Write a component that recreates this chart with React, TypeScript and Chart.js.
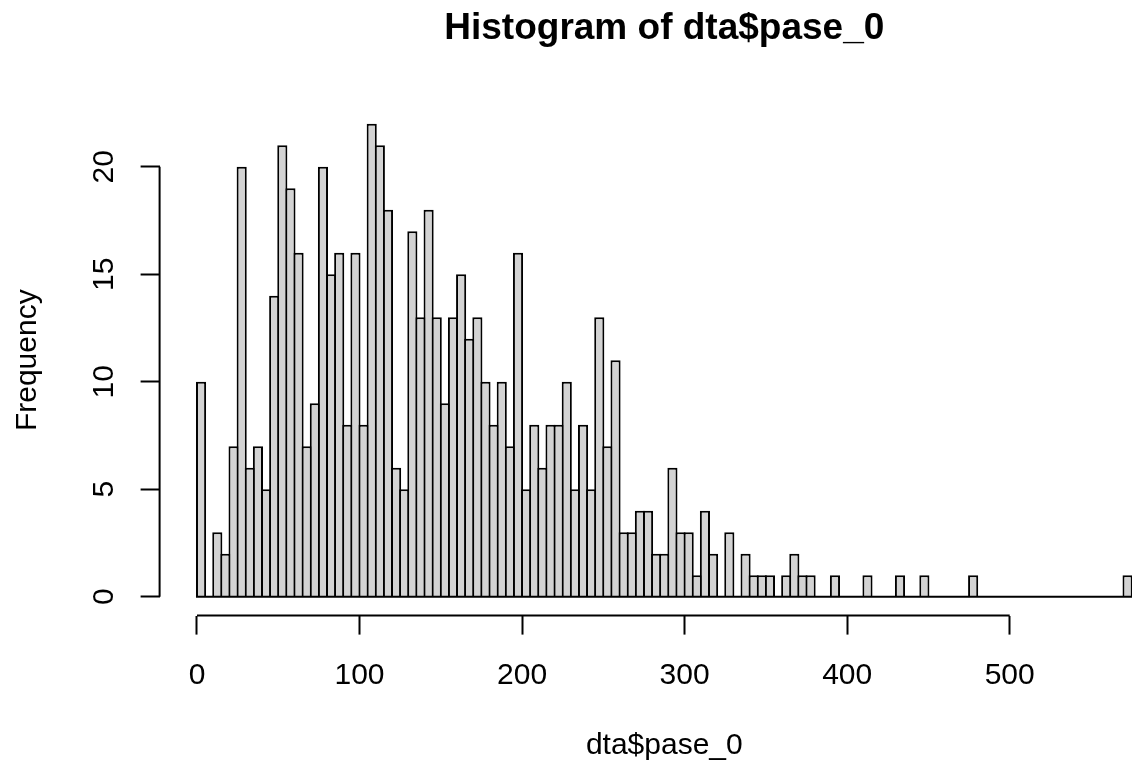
import React, { useEffect, useRef } from "react";
import { Chart, registerables } from "chart.js";

Chart.register(...registerables);

const TITLE = "Histogram of dta$pase_0";
const X_LABEL = "dta$pase_0";
const Y_LABEL = "Frequency";

const BIN_START = 0;
const BIN_WIDTH = 5;
// Frequency per 5-unit bin, from [0,5) up to [570,575)
const counts = [
  10, 0, 3, 2, 7, 20, 6, 7, 5, 14,
  21, 19, 16, 7, 9, 20, 15, 16, 8, 16,
  8, 22, 21, 18, 6, 5, 17, 13, 18, 13,
  9, 13, 15, 12, 13, 10, 8, 10, 7, 16,
  5, 8, 6, 8, 8, 10, 5, 8, 5, 13,
  7, 11, 3, 3, 4, 4, 2, 2, 6, 3,
  3, 1, 4, 2, 0, 3, 0, 2, 1, 1,
  1, 0, 1, 2, 1, 1, 0, 0, 1, 0,
  0, 0, 1, 0, 0, 0, 1, 0, 0, 1,
  0, 0, 0, 0, 0, 1, 0, 0, 0, 0,
  0, 0, 0, 0, 0, 0, 0, 0, 0, 0,
  0, 0, 0, 0, 1,
];

const xTicks = [0, 100, 200, 300, 400, 500];
const yTicks = [0, 5, 10, 15, 20];

const X_MIN = -23;
const X_MAX = 598;
const Y_MIN = -0.88;
const Y_MAX = 22.88;

const FONT = "'Liberation Sans', Arial, Helvetica, sans-serif";

export default function App() {
  const ref = useRef<HTMLCanvasElement | null>(null);

  useEffect(() => {
    const canvas = ref.current;
    if (!canvas) return;

    const binEnd = BIN_START + counts.length * BIN_WIDTH;

    const rAxes = {
      id: "rAxes",
      afterDatasetsDraw(chart: any) {
        const { ctx, chartArea, scales } = chart;
        const xs = scales.x;
        const ys = scales.y;
        ctx.save();
        ctx.strokeStyle = "#000";
        ctx.lineWidth = 2;
        // baseline of histogram (zero-height bins included)
        const y0 = ys.getPixelForValue(0);
        ctx.beginPath();
        ctx.moveTo(xs.getPixelForValue(BIN_START) - 1, y0);
        ctx.lineTo(xs.getPixelForValue(binEnd) + 1, y0);
        ctx.stroke();
        // x axis line
        ctx.beginPath();
        ctx.moveTo(xs.getPixelForValue(xTicks[0]), chartArea.bottom);
        ctx.lineTo(xs.getPixelForValue(xTicks[xTicks.length - 1]), chartArea.bottom);
        ctx.stroke();
        // y axis line
        ctx.beginPath();
        ctx.moveTo(chartArea.left, ys.getPixelForValue(yTicks[0]));
        ctx.lineTo(chartArea.left, ys.getPixelForValue(yTicks[yTicks.length - 1]));
        ctx.stroke();
        // rotated y tick labels
        ctx.fillStyle = "#000";
        ctx.font = `30px ${FONT}`;
        ctx.textAlign = "center";
        ctx.textBaseline = "alphabetic";
        for (const v of yTicks) {
          ctx.save();
          ctx.translate(113.3, ys.getPixelForValue(v));
          ctx.rotate(-Math.PI / 2);
          ctx.fillText(String(v), 0, 0);
          ctx.restore();
        }
        ctx.restore();
      },
    };

    const chart = new Chart(canvas, {
      type: "bar",
      data: {
        datasets: [
          {
            data: counts.map((c, i) => ({ x: BIN_START + i * BIN_WIDTH + BIN_WIDTH / 2, y: c })),
            backgroundColor: "#D3D3D3",
            borderColor: "#000000",
            borderWidth: 2,
            borderSkipped: "start",
            barPercentage: 1.246,
            categoryPercentage: 1,
          },
        ],
      },
      options: {
        animation: false,
        responsive: false,
        events: [],
        layout: { padding: 0 },
        plugins: {
          legend: { display: false },
          tooltip: { enabled: false },
          title: {
            display: true,
            text: TITLE,
            fullSize: false,
            color: "#000",
            font: { family: FONT, size: 37, weight: "bold", lineHeight: 1.2 },
            padding: { top: 7, bottom: 53.4 },
          },
        },
        scales: {
          x: {
            type: "linear",
            min: X_MIN,
            max: X_MAX,
            offset: false,
            afterBuildTicks: (s: any) => {
              s.ticks = xTicks.map((v) => ({ value: v }));
            },
            afterFit: (s: any) => {
              s.height = 155.4;
            },
            border: { display: false },
            grid: {
              offset: false,
              drawOnChartArea: false,
              drawTicks: true,
              tickLength: 19,
              tickWidth: 2,
              tickColor: "#000",
              color: "#000",
            },
            ticks: {
              color: "#000",
              font: { family: FONT, size: 30 },
              padding: 23,
              maxRotation: 0,
              minRotation: 0,
              autoSkip: false,
              callback: (v: any) => String(v),
            },
            title: {
              display: true,
              text: X_LABEL,
              color: "#000",
              font: { family: FONT, size: 30, lineHeight: 1.2 },
              padding: { top: 0, bottom: 7.3 },
            },
          },
          y: {
            type: "linear",
            min: Y_MIN,
            max: Y_MAX,
            afterBuildTicks: (s: any) => {
              s.ticks = yTicks.map((v) => ({ value: v }));
            },
            afterFit: (s: any) => {
              s.width = 159.6;
            },
            border: { display: false },
            grid: {
              drawOnChartArea: false,
              drawTicks: true,
              tickLength: 19,
              tickWidth: 2,
              tickColor: "#000",
              color: "#000",
            },
            ticks: {
              display: false,
              font: { family: FONT, size: 30 },
            },
            title: {
              display: true,
              text: Y_LABEL,
              color: "#000",
              font: { family: FONT, size: 30, lineHeight: 1.2 },
              padding: { top: 9.4, bottom: 0 },
            },
          },
        },
      },
      plugins: [rAxes],
    });

    return () => chart.destroy();
  }, []);

  return (
    <div
      style={{
        position: "fixed",
        left: 0,
        top: 0,
        width: 1132,
        height: 771,
        overflow: "hidden",
        background: "#fff",
      }}
    >
      <canvas ref={ref} width={1169} height={771} style={{ display: "block", width: 1169, height: 771 }} />
    </div>
  );
}
